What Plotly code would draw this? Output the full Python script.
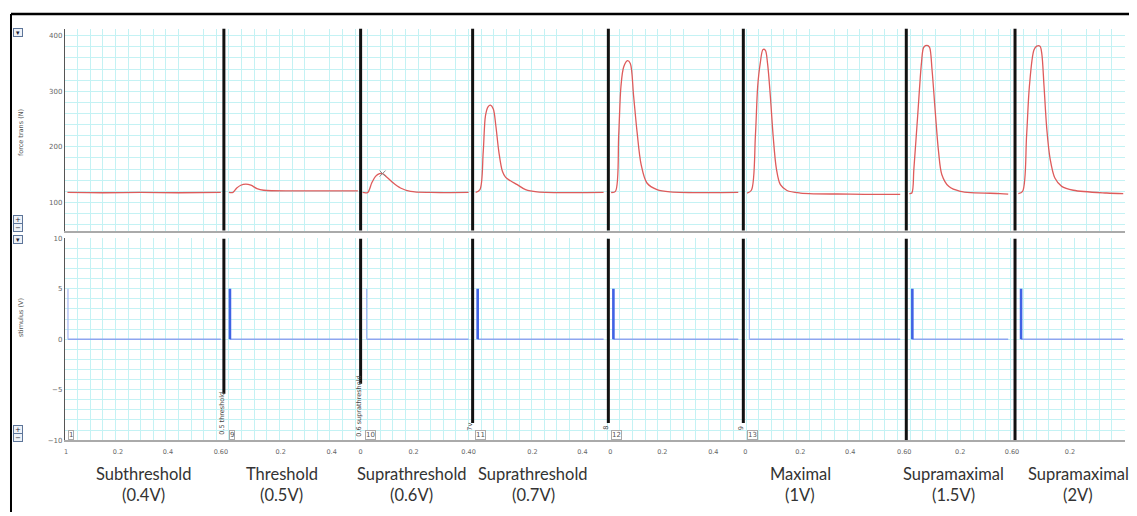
import plotly.graph_objects as go

# ---------------- data ----------------
# start of each recording block on the shared time axis (s)
SEG_START = [0.0, 0.630, 1.172, 1.616, 2.154, 2.689, 3.335, 3.766]
X_MAX = 4.202

# force traces: local time within block (s) and force (N)
seg1_t = [0.010, 0.150, 0.300, 0.450, 0.618]
seg1_force = [118, 117.5, 118, 117.5, 118]

seg2_t = [0.020, 0.036, 0.051, 0.067, 0.087, 0.107, 0.131, 0.158, 0.305, 0.531]
seg2_force = [118, 118, 126, 131, 133, 131, 125, 122, 121, 121]

seg3_t = [0.008, 0.028, 0.044, 0.059, 0.075, 0.087, 0.103, 0.127, 0.158, 0.198, 0.277, 0.428]
seg3_force = [118, 118, 135, 147, 152, 152, 146, 136, 126, 120, 118, 118]

seg4_t = [0.012, 0.029, 0.042, 0.051, 0.061, 0.071, 0.082, 0.092, 0.104, 0.118, 0.131,
          0.150, 0.177, 0.210, 0.256, 0.519]
seg4_force = [118, 123, 191, 256, 272, 275, 268, 238, 191, 156, 145, 139, 132, 123, 119, 118]

seg5_t = [0.011, 0.028, 0.041, 0.050, 0.061, 0.076, 0.087, 0.100, 0.114, 0.130, 0.153,
          0.193, 0.246, 0.515]
seg5_force = [118, 120, 221, 309, 344, 355, 350, 292, 226, 168, 135, 123, 119, 118]

seg6_t = [0.015, 0.032, 0.048, 0.057, 0.067, 0.078, 0.087, 0.096, 0.107, 0.118, 0.131,
          0.147, 0.173, 0.226, 0.424, 0.622]
seg6_force = [117, 122, 221, 309, 350, 375, 374, 350, 292, 221, 161, 132, 121.5, 117, 115, 114.5]

seg7_t = [0.012, 0.022, 0.030, 0.045, 0.060, 0.068, 0.076, 0.086, 0.093, 0.102, 0.115,
          0.128, 0.141, 0.168, 0.214, 0.372, 0.404]
seg7_force = [116, 117, 160, 255, 350, 378, 382, 382, 378, 339, 262, 191, 150, 129, 120, 116, 115]

seg8_t = [0.013, 0.030, 0.046, 0.057, 0.075, 0.086, 0.099, 0.106, 0.115, 0.126, 0.139,
          0.158, 0.185, 0.231, 0.363, 0.429]
seg8_force = [116, 120, 221, 309, 374, 381, 381, 368, 309, 232, 179, 144, 129, 122, 117, 116]

FORCE_T = [seg1_t, seg2_t, seg3_t, seg4_t, seg5_t, seg6_t, seg7_t, seg8_t]
FORCE_N = [seg1_force, seg2_force, seg3_force, seg4_force, seg5_force, seg6_force,
           seg7_force, seg8_force]

# stimulus: pulse onset (local s), amplitude (V), end of record (local s)
STIM_T = [0.012, 0.024, 0.024, 0.020, 0.020, 0.024, 0.024, 0.024]
STIM_V = [5, 5, 5, 5, 5, 5, 5, 5]
STIM_END = [0.618, 0.531, 0.428, 0.519, 0.515, 0.622, 0.404, 0.428]
STIM_STRONG = [False, True, False, True, True, False, True, True]

# bottom of the block separator in the stimulus panel (V)
SEP_BOTTOM = [-5.4, -4.4, -8.3, -8.3, -8.3, -10, -10]

# time-axis tick labels
TICK_POS = [0.004, 0.210, 0.408, 0.618, 0.855, 1.057, 1.172, 1.382, 1.600, 1.853, 2.051,
            2.162, 2.368, 2.570, 2.697, 2.915, 3.113, 3.327, 3.549, 3.754, 3.984]
TICK_TEXT = ["1", "0.2", "0.4", "0.60", "0.2", "0.4", "0", "0.2", "0.40", "0.2", "0.4",
             "0", "0.2", "0.4", "0", "0.2", "0.4", "0.60", "0.2", "0.60", "0.2"]

# condition labels under the chart
COND_NAME = ["Subthreshold", "Threshold", "Suprathreshold", "Suprathreshold",
             "Maximal", "Supramaximal", "Supramaximal"]
COND_VOLT = ["(0.4V)", "(0.5V)", "(0.6V)", "(0.7V)", "(1V)", "(1.5V)", "(2V)"]
COND_X = [0.313, 0.859, 1.374, 1.857, 2.915, 3.521, 4.016]

# block number boxes and comments
BLOCK_NUM = ["1", "9", "10", "11", "12", "13"]
BLOCK_NUM_X = [0.012, 0.650, 1.190, 1.626, 2.164, 2.705]
COMMENT_TEXT = ["0.5 threshold", "0.6 suprathreshold", "7v", "8", "9"]
COMMENT_X = [0.622, 1.165, 1.604, 2.143, 2.681]
COMMENT_Y = [-7.3, -6.6, -8.7, -8.8, -8.8]

# ---------------- figure ----------------
# the page body has an 8px margin, so the figure is drawn 8px smaller and
# reference pixel positions are shifted by that margin
OFF = 8
W, H = 1137 - OFF, 516 - OFF


def py(px):
    return 1 - (px - OFF) / H


def pxx(px):
    return (px - OFF) / W


GRID = "#c4f2f4"
XDOM = [pxx(64), pxx(1125)]
TXT_FONT = "Lato, Open Sans, sans-serif"
SMALL_FONT = "DejaVu Sans"

fig = go.Figure()

for k in range(8):
    x0 = SEG_START[k]
    fig.add_trace(go.Scatter(
        x=[x0 + t for t in FORCE_T[k]], y=FORCE_N[k], mode="lines",
        line=dict(color="#de5b5b", width=1.3, shape="spline", smoothing=0.9),
        xaxis="x", yaxis="y", showlegend=False, hoverinfo="skip"))

# small marker on the 0.6 V peak
fig.add_trace(go.Scatter(
    x=[SEG_START[2] + seg3_t[5]], y=[seg3_force[5]], mode="markers",
    marker=dict(symbol="x-thin", size=6, line=dict(color="#888", width=1)),
    xaxis="x", yaxis="y", showlegend=False, hoverinfo="skip"))

for k in range(8):
    x0 = SEG_START[k]
    ts = x0 + STIM_T[k]
    fig.add_trace(go.Scatter(
        x=[ts, x0 + STIM_END[k]], y=[0, 0], mode="lines",
        line=dict(color="#8ea5f0", width=1.5),
        xaxis="x2", yaxis="y2", showlegend=False, hoverinfo="skip"))
    fig.add_trace(go.Scatter(
        x=[ts, ts], y=[0, STIM_V[k]], mode="lines",
        line=dict(color="#3f62e4" if STIM_STRONG[k] else "#a3b4f2",
                  width=2.6 if STIM_STRONG[k] else 1.2),
        xaxis="x2", yaxis="y2", showlegend=False, hoverinfo="skip"))

shapes = []
# block separators
for k in range(1, 8):
    xs = SEG_START[k]
    shapes.append(dict(type="line", xref="x", yref="y domain", x0=xs, x1=xs, y0=0, y1=1,
                       line=dict(color="#111", width=3)))
    shapes.append(dict(type="line", xref="x2", yref="y2", x0=xs, x1=xs,
                       y0=SEP_BOTTOM[k - 1], y1=10, line=dict(color="#111", width=3)))
# window frame
shapes.append(dict(type="line", xref="paper", yref="paper", x0=pxx(10), x1=1,
                   y0=py(10), y1=py(10), line=dict(color="#000", width=2.5)))
shapes.append(dict(type="line", xref="paper", yref="paper", x0=pxx(10), x1=pxx(10),
                   y0=py(10), y1=0, line=dict(color="#000", width=2)))

ann = []
for name, volt, cx in zip(COND_NAME, COND_VOLT, COND_X):
    ann.append(dict(x=cx, y=py(477), xref="x2", yref="paper", text=name, showarrow=False,
                    xanchor="center", yanchor="middle",
                    font=dict(family=TXT_FONT, size=16.5, color="#333")))
    ann.append(dict(x=cx, y=py(499), xref="x2", yref="paper", text=volt, showarrow=False,
                    xanchor="center", yanchor="middle",
                    font=dict(family=TXT_FONT, size=16.5, color="#333")))

for t, bx in zip(BLOCK_NUM, BLOCK_NUM_X):
    ann.append(dict(x=bx, y=-9.45, xref="x2", yref="y2", text=t, showarrow=False,
                    xanchor="left", yanchor="middle", bgcolor="white", bordercolor="#aaa",
                    borderwidth=1, borderpad=0,
                    font=dict(family=SMALL_FONT, size=7, color="#555")))

for t, cx, cy in zip(COMMENT_TEXT, COMMENT_X, COMMENT_Y):
    ann.append(dict(x=cx, y=cy, xref="x2", yref="y2", text=t, showarrow=False,
                    textangle=-90, xanchor="center", yanchor="middle",
                    font=dict(family=SMALL_FONT, size=6.5, color="#444")))

# axis titles
ann.append(dict(x=pxx(20), y=py(130), xref="paper", yref="paper", text="force trans (N)",
                showarrow=False, textangle=-90, xanchor="center", yanchor="middle",
                font=dict(family=SMALL_FONT, size=6.5, color="#555")))
ann.append(dict(x=pxx(20), y=py(318), xref="paper", yref="paper", text="stimulus (V)",
                showarrow=False, textangle=-90, xanchor="center", yanchor="middle",
                font=dict(family=SMALL_FONT, size=6.5, color="#555")))

# little panel buttons
for sym, ypx in [("▾", 29), ("+", 219), ("−", 227), ("▾", 239), ("+", 432), ("−", 440)]:
    ann.append(dict(x=pxx(17), y=py(ypx), xref="paper", yref="paper", text=sym,
                    showarrow=False, xanchor="center", yanchor="middle",
                    bgcolor="#eef2f8", bordercolor="#5d7599",
                    borderwidth=1, borderpad=0, width=8, height=7,
                    font=dict(family=SMALL_FONT, size=7, color="#223")))

tickfont = dict(family=SMALL_FONT, size=7, color="#666")
minor_x = dict(tickmode="linear", tick0=0, dtick=0.05, showgrid=True, gridcolor=GRID,
               gridwidth=1, ticks="")

fig.update_layout(
    width=W, height=H, autosize=False,
    margin=dict(l=0, r=0, t=0, b=0),
    paper_bgcolor="white", plot_bgcolor="white",
    showlegend=False,
    xaxis=dict(domain=XDOM, anchor="y", range=[0, X_MAX], showticklabels=False,
               showgrid=False, zeroline=False, ticks="", minor=minor_x,
               showline=True, linecolor="#aaa", linewidth=1.5),
    yaxis=dict(domain=[py(230), py(25)], anchor="x", range=[49.6, 412.4],
               tickvals=[100, 200, 300, 400], showgrid=True, gridcolor=GRID,
               zeroline=False, ticks="", tickfont=tickfont,
               minor=dict(tickmode="linear", tick0=0, dtick=20, showgrid=True,
                          gridcolor=GRID, ticks=""),
               showline=True, linecolor="#555", linewidth=1.2),
    xaxis2=dict(domain=XDOM, anchor="y2", range=[0, X_MAX], tickmode="array",
                tickvals=TICK_POS, ticktext=TICK_TEXT, ticklabelstandoff=4,
                tickfont=dict(family=SMALL_FONT, size=6.5, color="#666"),
                showgrid=False, zeroline=False, ticks="", minor=minor_x,
                showline=True, linecolor="#aaa", linewidth=1.5),
    yaxis2=dict(domain=[py(443), py(238)], anchor="x2", range=[-10, 10],
                tickvals=[-10, -5, 0, 5, 10], showgrid=True, gridcolor=GRID,
                zeroline=False, ticks="", tickfont=tickfont,
                minor=dict(tickmode="linear", tick0=0, dtick=1, showgrid=True,
                           gridcolor=GRID, ticks=""),
                showline=True, linecolor="#555", linewidth=1.2),
    shapes=shapes,
    annotations=ann,
)

fig.write_html("out.html")
